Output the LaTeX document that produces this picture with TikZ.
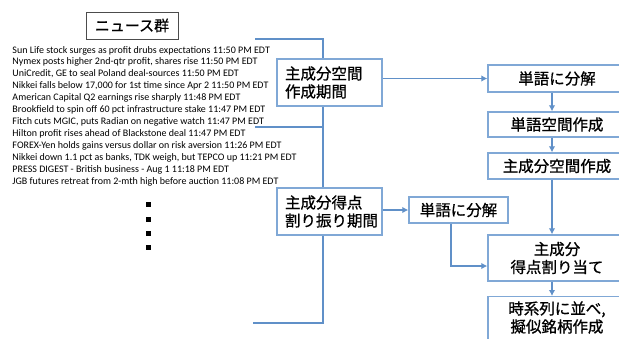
\documentclass[tikz,border=0pt]{standalone}
\usepackage{fontspec}
\setmainfont{Carlito}
\newfontfamily\cjk[FakeBold=0.8]{Noto Sans CJK JP}
\usetikzlibrary{arrows.meta}
\definecolor{lineblue}{RGB}{96,144,200}
\definecolor{boxblue}{RGB}{128,168,214}
\begin{document}
\begin{tikzpicture}[x=1pt,y=-1pt,
  news/.style={anchor=base west, inner sep=0, font=\fontsize{10}{12}\selectfont},
  jp/.style={font=\cjk\fontsize{15.5}{18}\selectfont, inner sep=0},
  pbox/.style={jp, draw=boxblue, line width=1.3pt, fill=white},
  rbox/.style={pbox, minimum width=138, align=center},
  conn/.style={draw=lineblue, line width=1.8pt, -{Latex[length=6pt,width=6.5pt]}},
  brk/.style={draw=lineblue, line width=1.8pt}]
\useasboundingbox (0,0) rectangle (619,338);
\clip (0,0) rectangle (619,338);

% news box
\node[draw=gray!60!black, line width=0.9pt, minimum width=92, minimum height=27, inner sep=0,
      font=\cjk\fontsize{15}{18}\selectfont] (news) at (132,25.5) {ニュース群};

% headlines
\foreach \t [count=\i] in {
  {Sun Life stock surges as profit drubs expectations 11:50 PM EDT},
  {Nymex posts higher 2nd-qtr profit, shares rise 11:50 PM EDT},
  {UniCredit, GE to seal Poland deal-sources 11:50 PM EDT},
  {Nikkei falls below 17,000 for 1st time since Apr 2 11:50 PM EDT},
  {American Capital Q2 earnings rise sharply 11:48 PM EDT},
  {Brookfield to spin off 60 pct infrastructure stake 11:47 PM EDT},
  {Fitch cuts MGIC, puts Radian on negative watch 11:47 PM EDT},
  {Hilton profit rises ahead of Blackstone deal 11:47 PM EDT},
  {FOREX-Yen holds gains versus dollar on risk aversion 11:26 PM EDT},
  {Nikkei down 1.1 pct as banks, TDK weigh, but TEPCO up 11:21 PM EDT},
  {PRESS DIGEST - British business - Aug 1 11:18 PM EDT},
  {JGB futures retreat from 2-mth high before auction 11:08 PM EDT}}
  \node[news] (n\i) at (12.3,{53+11.95*(\i-1)}) {\t};

% dots
\foreach \y [count=\i] in {204,219,233,247}
  \node[fill=black, minimum size=5, inner sep=0] (d\i) at (148,\y) {};

% brackets
\coordinate (b1) at (255,39);
\coordinate (b2) at (255,127);
\coordinate (b3) at (253,323);
\coordinate (bx) at (323,0);
\draw[brk] (b1) -- (b1 -| bx) -- (b3 -| bx) -- (b3);
\draw[brk] (b2) -- (b2 -| bx);

% period boxes
\node[pbox, minimum width=105, minimum height=47, text width=89, align=left] (box1) at (329.5,82.5) {主成分空間\\作成期間};
\node[pbox, minimum width=105, minimum height=47, text width=89, align=left] (box2) at (329.5,211.5) {主成分得点\\割り振り期間};

% right column
\node[rbox, minimum height=27] (A) at (557,78.5) {単語に分解};
\node[rbox, minimum height=25] (B) at (557,124.5) {単語空間作成};
\node[rbox, minimum height=26] (C) at (557,166) {主成分空間作成};
\node[rbox, minimum height=46] (D) at (557,258) {主成分\\得点割り当て};
\node[rbox, minimum height=60, anchor=north] (E) at (557,296) {};
\node[jp, align=center] (Et) at (557,317.5) {時系列に並べ,\\擬似銘柄作成};

% middle box
\node[pbox, minimum width=99, minimum height=26] (M) at (458.5,210) {単語に分解};

% connectors
\coordinate (col) at (552,0);
\coordinate (mx) at (451,266);
\draw[conn] (A.west -| box1.east) -- (A.west);
\draw[conn] (A.south -| col) -- (B.north -| col);
\draw[conn] (B.south -| col) -- (C.north -| col);
\draw[conn] (C.south -| col) -- (D.north -| col);
\draw[conn] (D.south -| col) -- (E.north -| col);
\draw[conn] (M.west -| box2.east) -- (M.west);
\draw[conn] (M.south -| mx) |- (D.west |- mx);
\end{tikzpicture}
\end{document}
